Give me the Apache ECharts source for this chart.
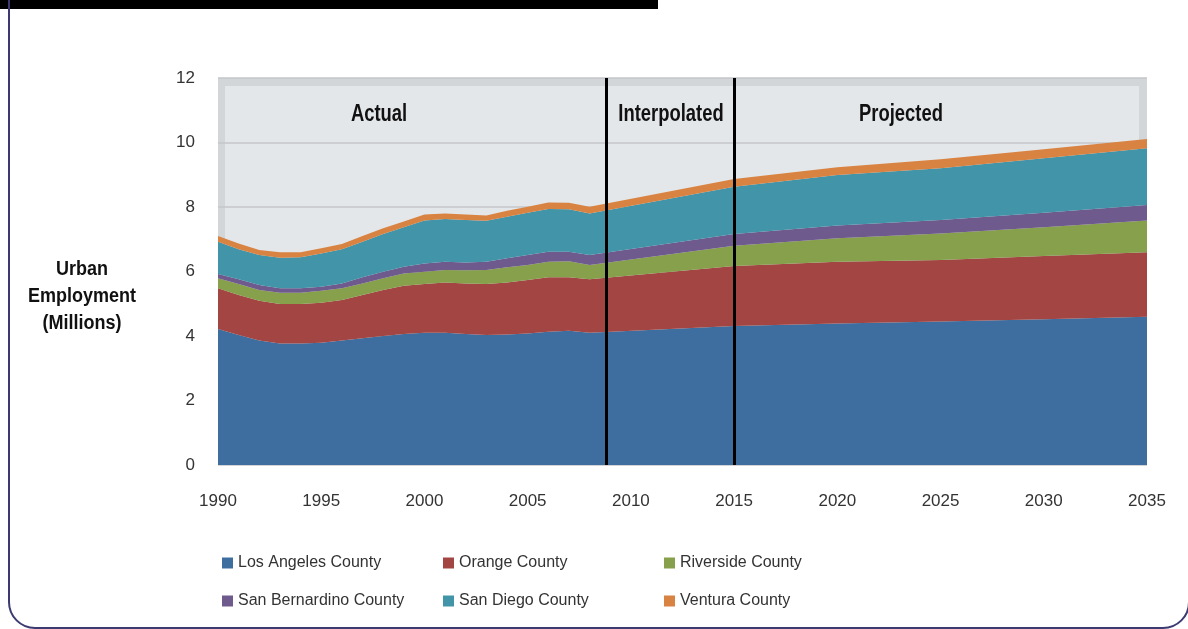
<!DOCTYPE html>
<html>
<head>
<meta charset="utf-8">
<script src="https://cdn.jsdelivr.net/npm/echarts@6/dist/echarts.min.js"></script>
<style>
  html, body { margin: 0; padding: 0; background: #fff; }
  #chart { width: 1188px; height: 629px; }
</style>
</head>
<body>
<div id="chart"></div>
<script>
// years with readings (actual yearly, then 2015 and projection steps)
const years = [1990, 1991, 1992, 1993, 1994, 1995, 1996, 1997, 1998, 1999,
  2000, 2001, 2002, 2003, 2004, 2005, 2006, 2007, 2008,
  2015, 2020, 2025, 2030, 2035];

// employment in millions, per county
const losAngeles = [4.22, 4.03, 3.86, 3.77, 3.77, 3.79, 3.86, 3.93, 4.00, 4.06,
  4.10, 4.10, 4.06, 4.03, 4.05, 4.08, 4.13, 4.16, 4.10,
  4.31, 4.39, 4.45, 4.52, 4.60];
const orange = [1.26, 1.24, 1.23, 1.22, 1.22, 1.24, 1.26, 1.34, 1.43, 1.50,
  1.51, 1.56, 1.57, 1.58, 1.61, 1.66, 1.69, 1.66, 1.66,
  1.86, 1.91, 1.91, 1.96, 2.00];
const riverside = [0.31, 0.34, 0.34, 0.35, 0.35, 0.37, 0.36, 0.36, 0.36, 0.38,
  0.38, 0.39, 0.41, 0.44, 0.47, 0.46, 0.48, 0.50, 0.44,
  0.63, 0.73, 0.82, 0.89, 0.98];
const sanBernardino = [0.13, 0.15, 0.15, 0.14, 0.14, 0.13, 0.15, 0.19, 0.20, 0.21,
  0.26, 0.25, 0.24, 0.25, 0.28, 0.31, 0.31, 0.29, 0.31,
  0.36, 0.40, 0.42, 0.45, 0.48];
const sanDiego = [1.00, 0.93, 0.93, 0.95, 0.96, 1.03, 1.06, 1.10, 1.17, 1.22,
  1.33, 1.33, 1.32, 1.27, 1.29, 1.31, 1.33, 1.32, 1.29,
  1.47, 1.56, 1.60, 1.69, 1.76];
const ventura = [0.18, 0.18, 0.16, 0.17, 0.16, 0.16, 0.16, 0.18, 0.18, 0.18,
  0.19, 0.17, 0.17, 0.17, 0.18, 0.19, 0.20, 0.20, 0.21,
  0.24, 0.24, 0.28, 0.28, 0.29];

const countyNames = ["Los Angeles County", "Orange County", "Riverside County",
  "San Bernardino County", "San Diego County", "Ventura County"];
const countyValues = [losAngeles, orange, riverside, sanBernardino, sanDiego, ventura];
const countyColors = ["#3e6e9f", "#a34643", "#86a04c", "#6f5a8d", "#4294a9", "#d98342"];

// period boundaries and labels
const dividers = [2008.8, 2015];
const periodLabels = ["Actual", "Interpolated", "Projected"];

const yTicks = { min: 0, max: 12, interval: 2 };
const xTicks = { min: 1990, max: 2035, interval: 5 };

const chart = echarts.init(document.getElementById("chart"));

// value first so the stack sums y, not the year
const series = countyNames.map((name, i) => {
  const s = {
    name: name,
    type: "line",
    stack: "total",
    symbol: "none",
    encode: { x: 1, y: 0 },
    lineStyle: { width: 0, color: countyColors[i] },
    itemStyle: { color: countyColors[i] },
    areaStyle: { color: countyColors[i], opacity: 1 },
    data: years.map((y, k) => [countyValues[i][k], y]),
  };
  if (i === countyNames.length - 1) {
    s.markLine = {
      silent: true,
      symbol: "none",
      animation: false,
      label: { show: false },
      lineStyle: { color: "#000", width: 3, type: "solid" },
      data: dividers.map((d) => ({ xAxis: d })),
    };
  }
  return s;
});

const sansFont = "Liberation Sans, Arial, sans-serif";

// one legend per column, two rows each
const legendLefts = [222, 443, 664];
const legends = legendLefts.map((left, c) => ({
  left: left,
  top: 554,
  padding: 0,
  orient: "vertical",
  icon: "rect",
  itemWidth: 11,
  itemHeight: 11,
  itemGap: 20,
  selectedMode: false,
  data: [countyNames[c], countyNames[c + 3]],
  textStyle: { fontFamily: sansFont, fontSize: 16, lineHeight: 18, color: "#333" },
}));

function label(text, x, y, size, sx) {
  return {
    type: "text", z: 10, x: x, y: y, scaleX: sx,
    style: {
      text: text, fill: "#111", lineHeight: 27,
      font: "bold " + size + "px 'Liberation Sans', Arial, sans-serif",
      align: "center", verticalAlign: "middle",
    },
  };
}

chart.setOption({
  animation: false,
  backgroundColor: "#fff",
  grid: {
    left: 218,
    right: 41,
    top: 78,
    bottom: 164,
    show: true,
    z: 0,
    backgroundColor: "#d3d6d9",
    borderWidth: 0,
  },
  xAxis: {
    type: "value",
    min: xTicks.min,
    max: xTicks.max,
    interval: xTicks.interval,
    axisLine: { show: false },
    axisTick: { show: false },
    splitLine: { show: false },
    axisLabel: {
      margin: 28,
      fontSize: 17,
      color: "#333",
      fontFamily: sansFont,
      formatter: (v) => String(v),
    },
  },
  yAxis: {
    type: "value",
    z: 1.5,
    min: yTicks.min,
    max: yTicks.max,
    interval: yTicks.interval,
    axisLine: { show: false },
    axisTick: { show: false },
    splitLine: { show: true, lineStyle: { color: "#c4c6c9", width: 1.5 } },
    axisLabel: { margin: 23, fontSize: 17, color: "#333", fontFamily: sansFont },
  },
  legend: legends,
  graphic: [
    // page frame
    { type: "rect", z: 10, shape: { x: 0, y: 0, width: 658, height: 9 }, style: { fill: "#000" } },
    { type: "rect", z: 10, shape: { x: 9, y: -40, width: 1180, height: 668, r: 26 },
      style: { fill: null, stroke: "#3b3b72", lineWidth: 2 } },
    // inner back wall of the plot
    { type: "rect", z: 1, shape: { x: 225, y: 86, width: 914, height: 379 },
      style: { fill: "#e4e7ea" } },
    label(periodLabels[0], 379, 115, 23, 0.8),
    label(periodLabels[1], 671, 115, 23, 0.8),
    label(periodLabels[2], 901, 115, 23, 0.8),
    label("Urban\nEmployment\n(Millions)", 82, 296, 20, 0.9),
  ],
  series: series,
});
</script>
</body>
</html>
